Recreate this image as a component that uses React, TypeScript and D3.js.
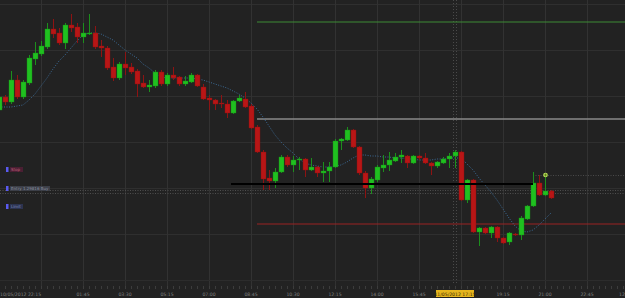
import React from "react";
import * as d3 from "d3";

const opens = [1.29890,1.29903,1.29898,1.29920,1.29903,1.29917,1.29941,1.29946,1.29953,1.29971,1.29967,1.29957,1.29975,1.29973,1.29963,1.29966,1.29967,1.29954,1.29952,1.29933,1.29922,1.29936,1.29933,1.29929,1.29917,1.29913,1.29914,1.29928,1.29916,1.29925,1.29923,1.29916,1.29918,1.29925,1.29913,1.29902,1.29900,1.29897,1.29896,1.29887,1.29899,1.29901,1.29894,1.29873,1.29848,1.29822,1.29819,1.29828,1.29843,1.29835,1.29840,1.29841,1.29830,1.29833,1.29827,1.29829,1.29833,1.29859,1.29860,1.29870,1.29853,1.29827,1.29812,1.29820,1.29832,1.29835,1.29839,1.29843,1.29844,1.29837,1.29844,1.29842,1.29837,1.29834,1.29837,1.29841,1.29844,1.29848,1.29800,1.29820,1.29768,1.29772,1.29767,1.29773,1.29762,1.29758,1.29766,1.29765,1.29781,1.29794,1.29817,1.29805,1.29809];
const highs = [1.29905,1.29905,1.29929,1.29925,1.29920,1.29945,1.29958,1.29959,1.29977,1.29981,1.29972,1.29977,1.29986,1.29977,1.29977,1.29986,1.29974,1.29960,1.29954,1.29942,1.29938,1.29948,1.29937,1.29931,1.29925,1.29920,1.29930,1.29930,1.29927,1.29933,1.29924,1.29924,1.29927,1.29926,1.29916,1.29905,1.29901,1.29905,1.29900,1.29900,1.29905,1.29908,1.29896,1.29875,1.29850,1.29830,1.29832,1.29845,1.29845,1.29844,1.29843,1.29842,1.29842,1.29834,1.29838,1.29838,1.29861,1.29862,1.29873,1.29871,1.29854,1.29829,1.29823,1.29835,1.29845,1.29848,1.29847,1.29850,1.29845,1.29845,1.29845,1.29847,1.29838,1.29839,1.29843,1.29847,1.29850,1.29849,1.29821,1.29821,1.29773,1.29773,1.29774,1.29774,1.29763,1.29768,1.29767,1.29784,1.29795,1.29828,1.29825,1.29825,1.29810];
const lows = [1.29888,1.29895,1.29896,1.29901,1.29901,1.29915,1.29935,1.29944,1.29951,1.29962,1.29955,1.29951,1.29968,1.29957,1.29957,1.29965,1.29951,1.29943,1.29930,1.29919,1.29920,1.29925,1.29926,1.29903,1.29912,1.29908,1.29912,1.29914,1.29914,1.29920,1.29914,1.29914,1.29917,1.29913,1.29900,1.29890,1.29890,1.29892,1.29882,1.29886,1.29898,1.29892,1.29871,1.29847,1.29810,1.29810,1.29812,1.29827,1.29833,1.29828,1.29830,1.29823,1.29829,1.29823,1.29818,1.29818,1.29832,1.29850,1.29859,1.29852,1.29825,1.29802,1.29806,1.29818,1.29828,1.29829,1.29838,1.29837,1.29832,1.29836,1.29840,1.29836,1.29825,1.29832,1.29836,1.29832,1.29832,1.29799,1.29797,1.29767,1.29754,1.29766,1.29762,1.29758,1.29756,1.29755,1.29764,1.29760,1.29780,1.29793,1.29804,1.29804,1.29801];
const closes = [1.29903,1.29898,1.29920,1.29903,1.29918,1.29942,1.29947,1.29954,1.29971,1.29966,1.29957,1.29975,1.29972,1.29963,1.29967,1.29967,1.29953,1.29952,1.29932,1.29922,1.29936,1.29932,1.29928,1.29916,1.29913,1.29915,1.29928,1.29916,1.29925,1.29922,1.29916,1.29919,1.29925,1.29914,1.29901,1.29900,1.29896,1.29896,1.29887,1.29899,1.29902,1.29893,1.29872,1.29848,1.29821,1.29819,1.29828,1.29843,1.29835,1.29840,1.29841,1.29830,1.29833,1.29827,1.29829,1.29833,1.29859,1.29861,1.29870,1.29853,1.29827,1.29812,1.29821,1.29833,1.29835,1.29840,1.29843,1.29845,1.29837,1.29844,1.29842,1.29837,1.29834,1.29838,1.29841,1.29844,1.29848,1.29800,1.29820,1.29768,1.29772,1.29767,1.29773,1.29762,1.29757,1.29767,1.29765,1.29782,1.29794,1.29817,1.29805,1.29809,1.29802];
const movingAvg = [1.29893,1.29893,1.29893,1.29894,1.29895,1.29900,1.29906,1.29914,1.29922,1.29931,1.29939,1.29945,1.29952,1.29959,1.29965,1.29967,1.29967,1.29966,1.29963,1.29960,1.29955,1.29950,1.29946,1.29942,1.29936,1.29932,1.29927,1.29923,1.29922,1.29922,1.29922,1.29922,1.29922,1.29921,1.29920,1.29918,1.29916,1.29914,1.29912,1.29909,1.29906,1.29902,1.29897,1.29891,1.29883,1.29874,1.29865,1.29858,1.29852,1.29847,1.29841,1.29837,1.29835,1.29834,1.29833,1.29833,1.29834,1.29835,1.29838,1.29842,1.29845,1.29845,1.29844,1.29844,1.29843,1.29843,1.29842,1.29842,1.29841,1.29841,1.29840,1.29840,1.29840,1.29841,1.29841,1.29842,1.29842,1.29842,1.29836,1.29830,1.29822,1.29815,1.29808,1.29800,1.29791,1.29782,1.29774,1.29769,1.29768,1.29770,1.29775,1.29781,1.29787];

const takeProfit = 1.29978;
const midLevel = 1.29881;
const stopLevel = 1.29776;
const entryLevel = 1.29816;
const dottedLevels = [1.29810, 1.29807];
const signalLevel = 1.29825;
const orderLabels = ["Stop", "Entry 1.29816 Buy", "Limit"];

const W = 625, H = 298, PB = 280;
const STEP = 15 * 60 * 1000;
const t0 = new Date(2012, 4, 10, 22, 15).getTime();
const NT = 105;

export default function App() {
  const x = d3.scaleTime().domain([new Date(t0), new Date(t0 + NT * STEP)]).range([-1, 629]);
  const y = d3.scaleLinear().domain([1.3, 1.2972]).range([0, PB]);
  const tx = (i: number) => x(new Date(t0 + i * STEP));
  const fmtT = d3.timeFormat("%H:%M");
  const fmtD = d3.timeFormat("%d/%m/%Y %H:%M");
  const majors = d3.range(0, NT + 1, 7);
  const minors = d3.range(0, NT + 1, 1);
  const hGrid = [1.29996, 1.2995, 1.29904, 1.29858, 1.29812, 1.29766];
  const maLine = d3.line<number>().x((_, i) => tx(i)).y((d) => y(d))(movingAvg) || "";
  const green = "#20c020", red = "#b81616";
  const cursorIdx = 76;
  const font = "DejaVu Sans, sans-serif";
  const entryEndIdx = 89;
  const levelStart = tx(43);
  const entryStart = tx(39) - 2;
  return (
    <svg width={W} height={H} style={{ position: "fixed", left: 0, top: 0, display: "block", background: "#222222" }} fontFamily={font}>
      <rect x={0} y={0} width={W} height={H} fill="#222222" />
      {hGrid.map((v, i) => (
        <line key={"h" + i} x1={0} x2={W} y1={Math.round(y(v)) + 0.5} y2={Math.round(y(v)) + 0.5} stroke="#2f2f2f" />
      ))}
      {majors.map((k) => (
        <line key={"v" + k} x1={tx(k) + 0.5} x2={tx(k) + 0.5} y1={0} y2={PB + 9} stroke="#323232" />
      ))}
      <line x1={0} x2={W} y1={PB + 0.5} y2={PB + 0.5} stroke="#2c2c2c" />
      {minors.map((k) => (
        <line key={"m" + k} x1={tx(k) + 0.5} x2={tx(k) + 0.5} y1={PB + 6} y2={PB + 9} stroke="#3c3c3c" />
      ))}
      {/* cursor dotted verticals */}
      <line x1={tx(cursorIdx) - 1.5} x2={tx(cursorIdx) - 1.5} y1={0} y2={PB + 4} stroke="#4a4a4a" strokeDasharray="1,2" />
      <line x1={tx(cursorIdx) + 1.5} x2={tx(cursorIdx) + 1.5} y1={0} y2={PB + 4} stroke="#4a4a4a" strokeDasharray="1,2" />
      {/* dotted levels */}
      {dottedLevels.map((v, i) => (
        <line key={"d" + i} x1={0} x2={W} y1={Math.round(y(v)) + 0.5} y2={Math.round(y(v)) + 0.5} stroke="#4e4e4e" strokeDasharray="1,1.5" />
      ))}
      <line x1={tx(89)} x2={W} y1={Math.round(y(signalLevel)) + 0.5} y2={Math.round(y(signalLevel)) + 0.5} stroke="#4a4a4a" strokeDasharray="1,1.5" />
      {/* levels */}
      <line x1={levelStart} x2={W} y1={y(takeProfit)} y2={y(takeProfit)} stroke="#3d8a34" strokeWidth={1} />
      <line x1={levelStart} x2={W} y1={y(midLevel)} y2={y(midLevel)} stroke="#8a8a8a" strokeWidth={1.5} />
      <line x1={levelStart} x2={W} y1={y(stopLevel)} y2={y(stopLevel)} stroke="#9a2222" strokeWidth={1} />
      {/* moving average */}
      <path d={maLine} fill="none" stroke="#3b6a95" strokeWidth={1} strokeDasharray="1,1.5" />
      {/* candles */}
      {opens.map((o, i) => {
        const c = closes[i];
        const up = c >= o;
        const cx = Math.round(tx(i));
        const top = Math.min(y(o), y(c));
        const h = Math.max(1, Math.abs(y(o) - y(c)));
        return (
          <g key={"c" + i}>
            <line x1={cx + 0.5} x2={cx + 0.5} y1={y(highs[i])} y2={y(lows[i])} stroke={up ? "#1c8f1c" : "#8e1313"} strokeWidth={1} />
            <rect x={cx - 2} y={top} width={5} height={h} fill={up ? green : red} stroke={up ? "#188a18" : "#8a1010"} strokeWidth={0.4} />
          </g>
        );
      })}
      {/* entry line */}
      <line x1={entryStart} x2={tx(entryEndIdx)} y1={y(entryLevel)} y2={y(entryLevel)} stroke="#000000" strokeWidth={2} />
      {/* signal marker */}
      <g transform={`translate(${tx(91) + 0.5},${y(signalLevel)})`}>
        <circle r={2.3} fill="#b9e05a" />
        <path d="M-1.5,0 H1.5 M0,-1.5 V1.5" stroke="#4a6a10" strokeWidth={0.7} />
      </g>
      {/* left order labels */}
      {[
        { yy: 167, w: 13, bg: "#4a1f33", fg: "#c0607a" },
        { yy: 186, w: 40, bg: "#3c3f48", fg: "#8a90a0" },
        { yy: 204, w: 13, bg: "#2c3350", fg: "#7f8ab8" },
      ].map((b, i) => (
        <g key={"lb" + i}>
          <rect x={6} y={b.yy} width={2.5} height={5} fill="#5a5af0" />
          <rect x={10} y={b.yy} width={b.w} height={5} fill={b.bg} />
          <text x={11} y={b.yy + 4} fontSize={4} fill={b.fg}>{orderLabels[i]}</text>
        </g>
      ))}
      {/* axis labels */}
      {majors.map((k) => {
        if (k === 7 || k === 77) return null;
        const t = new Date(t0 + k * STEP);
        if (k === 0)
          return <text key={"t" + k} x={0} y={296} fontSize={4.6} fill="#808080">{fmtD(t)}</text>;
        if (k === NT)
          return <text key={"t" + k} x={tx(k) - 10} y={296} fontSize={4.6} fill="#808080">{fmtD(t)}</text>;
        return <text key={"t" + k} x={tx(k)} y={296} fontSize={4.6} fill="#808080" textAnchor="middle">{fmtT(t)}</text>;
      })}
      <rect x={tx(cursorIdx) - 19} y={290} width={38} height={7} fill="#e5b51e" />
      <text x={tx(cursorIdx)} y={295.8} fontSize={4.6} fill="#3a2a00" textAnchor="middle">{fmtD(new Date(t0 + cursorIdx * STEP))}</text>
    </svg>
  );
}
